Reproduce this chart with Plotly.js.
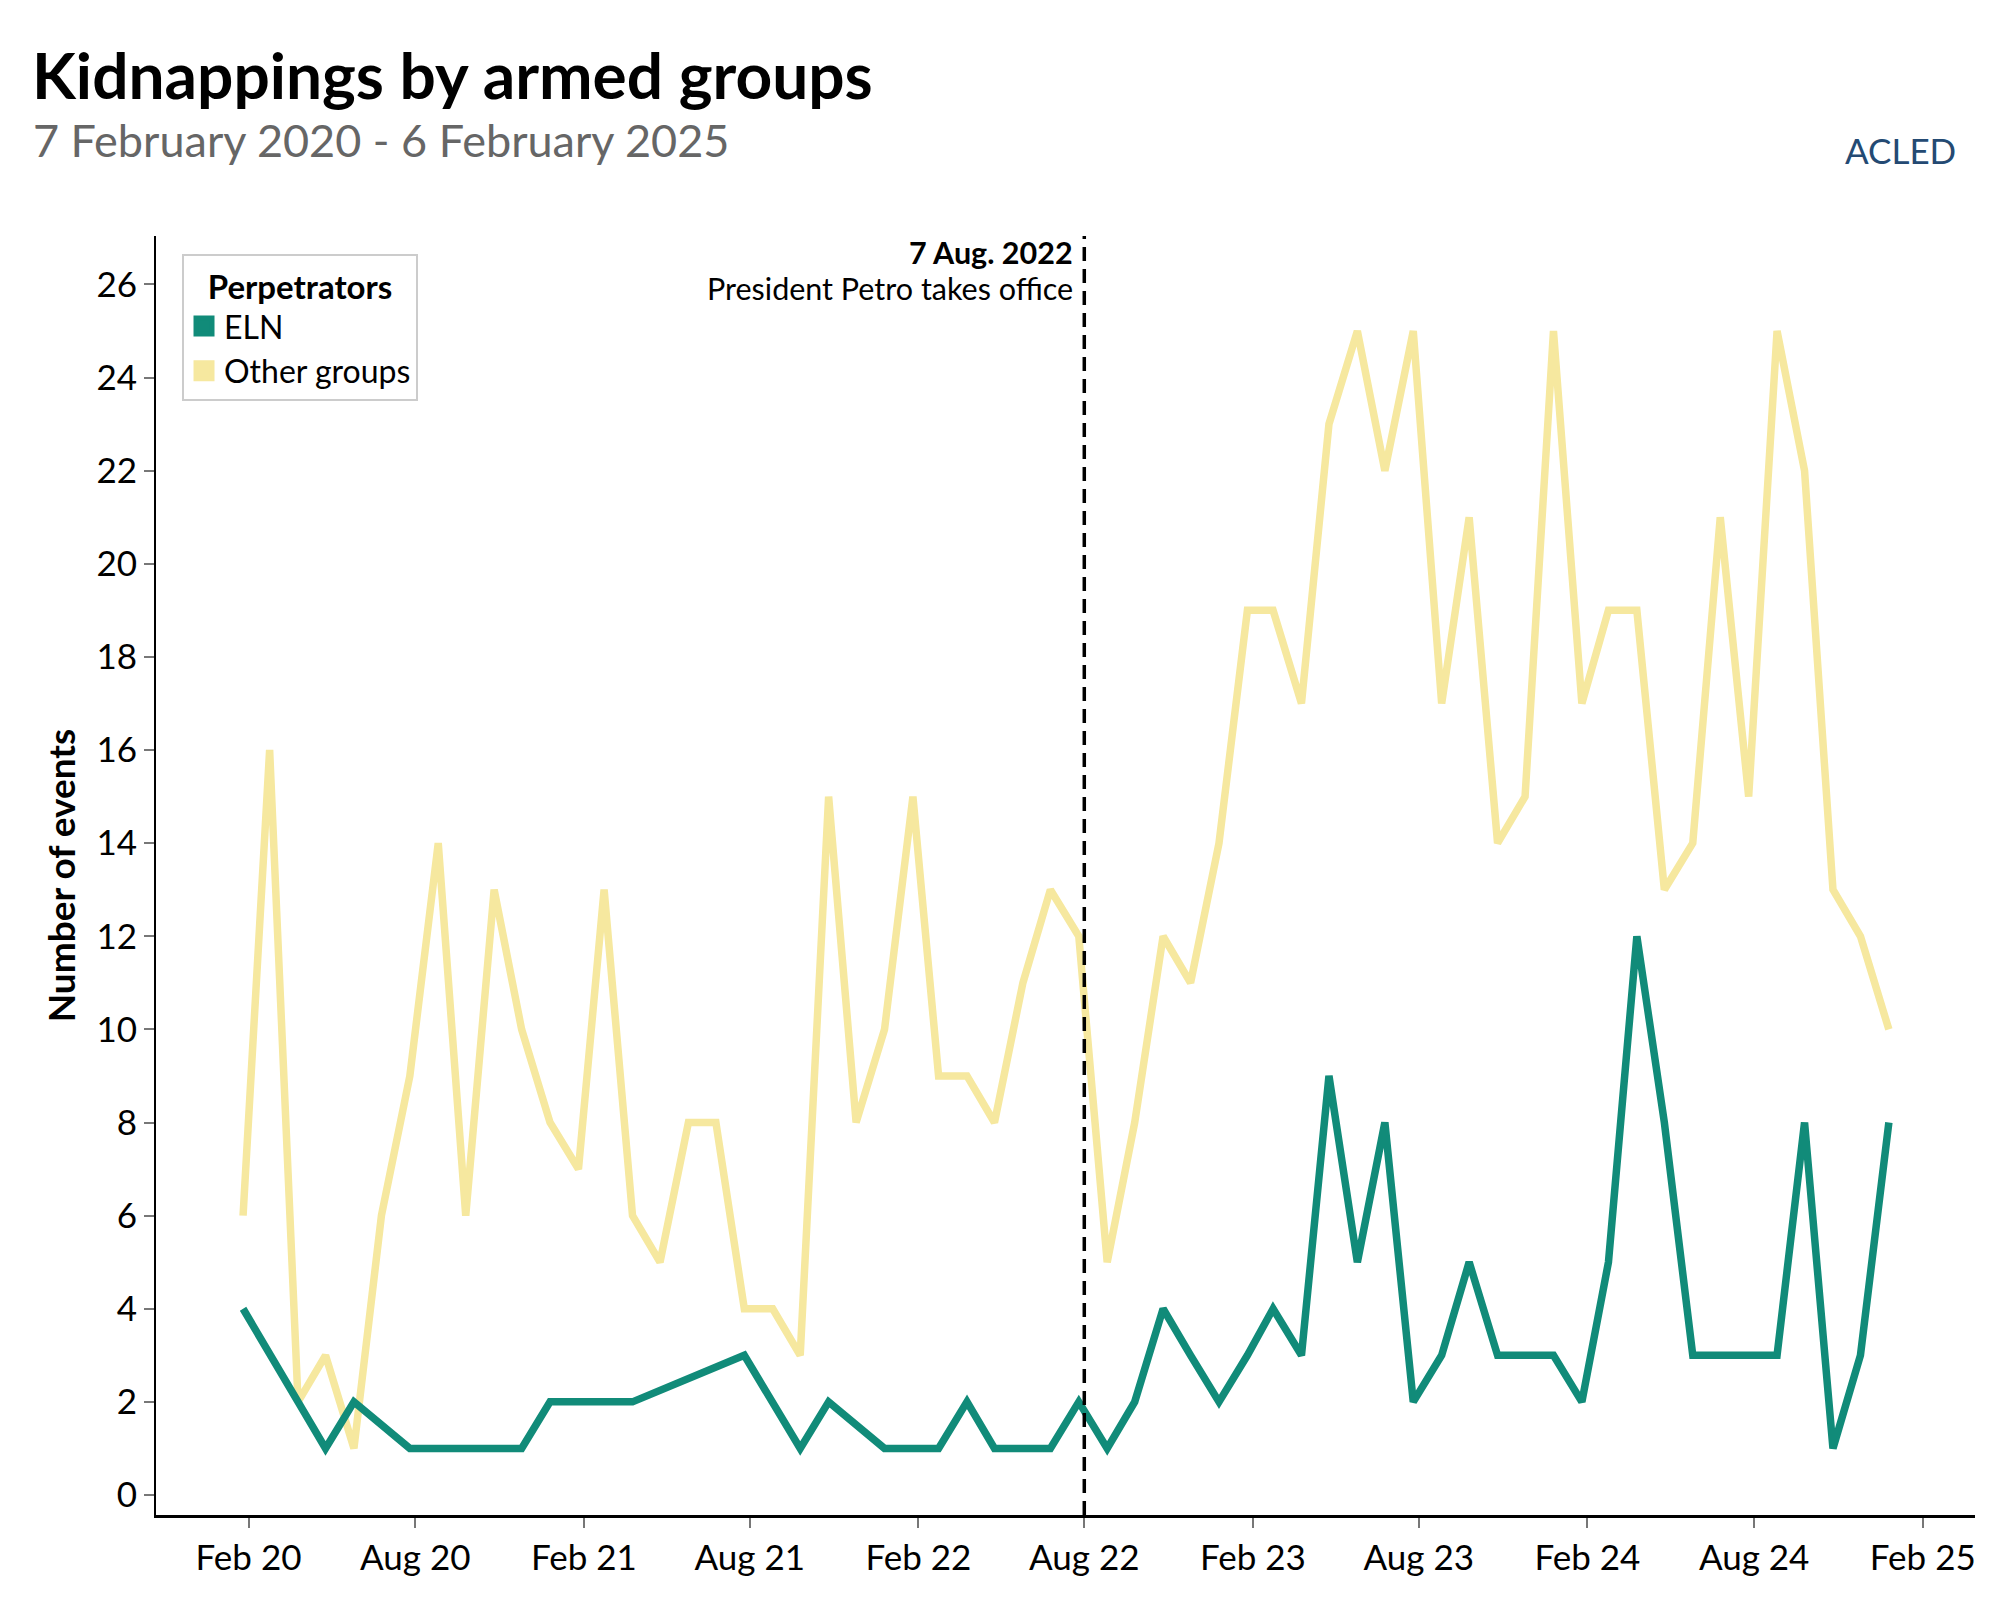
<!DOCTYPE html>
<html>
<head>
<meta charset="utf-8">
<script src="https://cdn.plot.ly/plotly-3.0.1.min.js"></script>
<style>
  html, body { margin: 0; padding: 0; background: #ffffff; }
  #chart { width: 2000px; height: 1600px; }
</style>
</head>
<body>
<div id="chart"></div>
<script>
// ---- Data (monthly counts) ----
const months = [
  '2020-02-01','2020-03-01','2020-04-01','2020-05-01','2020-06-01','2020-07-01','2020-08-01','2020-09-01','2020-10-01','2020-11-01','2020-12-01',
  '2021-01-01','2021-02-01','2021-03-01','2021-04-01','2021-05-01','2021-06-01','2021-07-01','2021-08-01','2021-09-01','2021-10-01','2021-11-01','2021-12-01',
  '2022-01-01','2022-02-01','2022-03-01','2022-04-01','2022-05-01','2022-06-01','2022-07-01','2022-08-01','2022-09-01','2022-10-01','2022-11-01','2022-12-01',
  '2023-01-01','2023-02-01','2023-03-01','2023-04-01','2023-05-01','2023-06-01','2023-07-01','2023-08-01','2023-09-01','2023-10-01','2023-11-01','2023-12-01',
  '2024-01-01','2024-02-01','2024-03-01','2024-04-01','2024-05-01','2024-06-01','2024-07-01','2024-08-01','2024-09-01','2024-10-01','2024-11-01','2024-12-01',
  '2025-01-01'
];
const otherGroups = [6,16,2,3,1,6,9,14,6,13,10,8,7,13,6,5,8,8,4,4,3,15,8,10,15,9,9,8,11,13,12,5,8,12,11,14,19,19,17,23,25,22,25,17,21,14,15,25,17,19,19,13,14,21,15,25,22,13,12,10];
const eln = [4,3,2,1,2,null,1,1,1,1,1,2,2,2,2,null,null,null,3,2,1,2,null,1,1,1,2,1,1,1,2,1,2,4,3,2,3,4,3,9,5,8,2,3,5,3,3,3,2,5,12,8,3,3,3,3,8,1,3,8];

const seriesNames = ['ELN', 'Other groups'];
const seriesColors = ['#118b79', '#f6e89f'];

const tickDates = ['2020-02-07','2020-08-07','2021-02-07','2021-08-07','2022-02-07','2022-08-07','2023-02-07','2023-08-07','2024-02-07','2024-08-07','2025-02-07'];
const tickLabels = ['Feb 20','Aug 20','Feb 21','Aug 21','Feb 22','Aug 22','Feb 23','Aug 23','Feb 24','Aug 24','Feb 25'];

const eventDate = '2022-08-07';
const eventLabel = '7 Aug. 2022';
const eventText = 'President Petro takes office';

const FONT = 'Lato, "Open Sans", sans-serif';

const traces = [
  {
    x: months, y: otherGroups, type: 'scatter', mode: 'lines',
    name: seriesNames[1], showlegend: false, connectgaps: true,
    line: { color: seriesColors[1], width: 7.5 },
    hoverinfo: 'x+y+name'
  },
  {
    x: months, y: eln, type: 'scatter', mode: 'lines',
    name: seriesNames[0], showlegend: false, connectgaps: true,
    line: { color: seriesColors[0], width: 7.5 },
    hoverinfo: 'x+y+name'
  },
  // legend-only swatches (square keys like the reference)
  {
    x: [null], y: [null], type: 'scatter', mode: 'markers', name: seriesNames[0],
    marker: { symbol: 'square', size: 16, color: seriesColors[0], line: { color: seriesColors[0], width: 5 } },
    hoverinfo: 'skip'
  },
  {
    x: [null], y: [null], type: 'scatter', mode: 'markers', name: seriesNames[1],
    marker: { symbol: 'square', size: 16, color: seriesColors[1], line: { color: seriesColors[1], width: 5 } },
    hoverinfo: 'skip'
  }
];

const layout = {
  width: 2000, height: 1600,
  paper_bgcolor: '#ffffff', plot_bgcolor: '#ffffff',
  font: { family: FONT, color: '#000000', size: 32 },
  margin: { l: 156, r: 25, t: 236, b: 85, pad: 0 },
  title: {
    text: '<b>Kidnappings by armed groups</b>',
    font: { family: FONT, size: 64, color: '#000000' },
    xref: 'container', x: 0.016, xanchor: 'left',
    yref: 'container', y: 0.966, yanchor: 'top'
  },
  showlegend: true,
  legend: {
    x: 0.0143, xanchor: 'left', y: 0.986, yanchor: 'top',
    bordercolor: '#cccccc', borderwidth: 2, bgcolor: '#ffffff',
    font: { family: FONT, size: 32, color: '#000000' },
    title: { text: '<b>Perpetrators</b>', side: 'top center', font: { family: FONT, size: 33, color: '#000000' } },
    tracegroupgap: 0, itemwidth: 30
  },
  xaxis: {
    type: 'date',
    range: ['2019-10-29', '2025-04-05'],
    tickmode: 'array', tickvals: tickDates, ticktext: tickLabels,
    showgrid: false, zeroline: false,
    showline: true, linecolor: '#000000', linewidth: 2.5,
    ticks: 'outside', ticklen: 10, tickwidth: 2, tickcolor: '#777777',
    tickfont: { family: FONT, size: 35, color: '#000000' }
  },
  yaxis: {
    range: [-0.43, 27.04],
    tickmode: 'linear', tick0: 0, dtick: 2,
    showgrid: false, zeroline: false,
    showline: true, linecolor: '#000000', linewidth: 2,
    ticks: 'outside', ticklen: 10, tickwidth: 2, tickcolor: '#777777',
    tickfont: { family: FONT, size: 35, color: '#000000' },
    title: { text: '<b>Number of events</b>', font: { family: FONT, size: 37, color: '#000000' }, standoff: 9 }
  },
  shapes: [
    {
      type: 'line', xref: 'x', yref: 'paper',
      x0: eventDate, x1: eventDate, y0: 0, y1: 1,
      line: { color: '#000000', width: 3.5, dash: '14px,8px' }
    }
  ],
  annotations: [
    {
      xref: 'paper', yref: 'paper', x: -0.0685, y: 1.052, xanchor: 'left', yanchor: 'bottom',
      text: '7 February 2020 - 6 February 2025', showarrow: false,
      font: { family: FONT, size: 45, color: '#666666' }
    },
    {
      xref: 'x', yref: 'paper', x: eventDate, y: 0.972, xanchor: 'right', yanchor: 'bottom', xshift: -9,
      text: '<b>' + eventLabel + '</b>', showarrow: false,
      font: { family: FONT, size: 30.5, color: '#000000' }
    },
    {
      xref: 'x', yref: 'paper', x: eventDate, y: 0.944, xanchor: 'right', yanchor: 'bottom', xshift: -9,
      text: eventText, showarrow: false,
      font: { family: FONT, size: 30.5, color: '#000000' }
    },
    {
      xref: 'paper', yref: 'paper', x: 0.9588, y: 1.067, xanchor: 'center', yanchor: 'middle',
      text: 'ACLED', showarrow: false,
      font: { family: FONT, size: 35, color: '#244a73' }
    }
  ]
};

Plotly.newPlot('chart', traces, layout, { displayModeBar: false, staticPlot: true });
</script>
</body>
</html>
